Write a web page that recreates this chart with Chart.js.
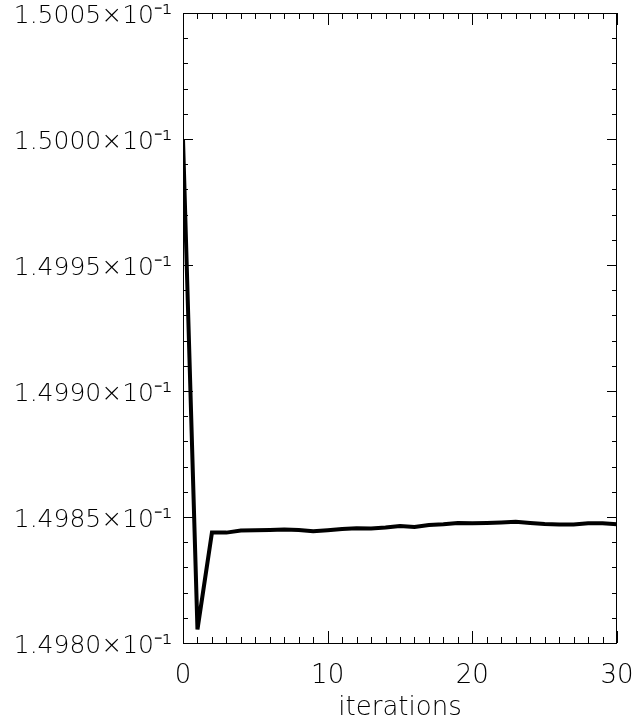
<!DOCTYPE html>
<html>
<head>
<meta charset="utf-8">
<script src="https://cdn.jsdelivr.net/npm/chart.js@4.4.1/dist/chart.umd.min.js"></script>
<style>
  html, body { margin: 0; padding: 0; background: #fff; }
  #wrap { width: 637px; height: 725px; }
</style>
</head>
<body>
<div id="wrap"><canvas id="myChart" width="637" height="725"></canvas></div>
<script>
// iteration number and value
var iterations = [0, 1, 2, 3, 4, 5, 6, 7, 8, 9, 10, 11, 12, 13, 14, 15, 16, 17, 18, 19, 20, 21, 22, 23, 24, 25, 26, 27, 28, 29, 30];
var values = [0.1500000, 0.1498054, 0.1498438, 0.1498438, 0.1498446, 0.1498447, 0.1498448, 0.1498450, 0.1498448, 0.1498443,
              0.1498447, 0.1498452, 0.1498455, 0.1498454, 0.1498458, 0.1498464, 0.1498460, 0.1498468, 0.1498471, 0.1498476,
              0.1498475, 0.1498476, 0.1498478, 0.1498481, 0.1498476, 0.1498472, 0.1498470, 0.1498470, 0.1498475, 0.1498475,
              0.1498471];

var xTicks = [0, 10, 20, 30];
var yTicks = [0.14980, 0.14985, 0.14990, 0.14995, 0.15000, 0.15005];
var xMinorStep = 1;
var yMinorStep = 0.00001;

var FONT = "'DejaVu Sans', sans-serif";

var points = [];
for (var i = 0; i < iterations.length; i++) {
  points.push({ x: iterations[i], y: values[i] });
}

// IDL style box with inward ticks on all four sides
var boxPlugin = {
  id: 'box',
  afterDraw: function(chart) {
    var ctx = chart.ctx;
    var a = chart.chartArea;
    var xs = chart.scales.x, ys = chart.scales.y;
    ctx.save();
    ctx.strokeStyle = '#000';
    ctx.lineWidth = 1;
    ctx.strokeRect(Math.round(a.left) + 0.5, Math.round(a.top) + 0.5,
                   Math.round(a.right - a.left) - 1, Math.round(a.bottom - a.top));
    ctx.beginPath();
    var v, px, len;
    for (v = xs.min; v <= xs.max + 1e-9; v += xMinorStep) {
      px = Math.round(xs.getPixelForValue(v)) + 0.5;
      len = (Math.abs(v % 10) < 1e-9) ? 12 : 6;
      ctx.moveTo(px, a.bottom); ctx.lineTo(px, a.bottom - len);
      ctx.moveTo(px, a.top); ctx.lineTo(px, a.top + len);
    }
    var n = Math.round((ys.max - ys.min) / yMinorStep);
    for (var k = 0; k <= n; k++) {
      v = ys.min + k * yMinorStep;
      px = Math.round(ys.getPixelForValue(v)) + 0.5;
      len = (k % 5 === 0) ? 10 : 5;
      ctx.moveTo(a.left, px); ctx.lineTo(a.left + len, px);
      ctx.moveTo(a.right, px); ctx.lineTo(a.right - len, px);
    }
    ctx.stroke();
    ctx.restore();
  }
};

var ctx = document.getElementById("myChart").getContext("2d");
var myLineChart = new Chart(ctx, {
  type: 'line',
  data: {
    datasets: [{
      data: points,
      borderColor: '#000',
      borderWidth: 4,
      pointRadius: 0,
      tension: 0,
      fill: false
    }]
  },
  options: {
    responsive: false,
    animation: false,
    layout: { padding: { left: 0, right: 20, top: 13, bottom: 0 } },
    plugins: { legend: { display: false }, tooltip: { enabled: false } },
    scales: {
      x: {
        type: 'linear',
        min: 0,
        max: 30,
        border: { display: false },
        grid: { display: false, drawTicks: false },
        afterBuildTicks: function(scale) {
          scale.ticks = xTicks.map(function(t) { return { value: t }; });
        },
        afterFit: function(scale) {
          scale.height = 82;
          scale.paddingLeft = 0;
          scale.paddingRight = 0;
        },
        ticks: {
          padding: 18,
          maxRotation: 0,
          color: '#000',
          font: { family: FONT, size: 26, weight: 200 },
          callback: function(v) { return String(v); }
        },
        title: {
          display: true,
          text: 'iterations',
          color: '#000',
          padding: { top: 0, bottom: 1 },
          font: { family: FONT, size: 26, weight: 200 }
        }
      },
      y: {
        type: 'linear',
        min: 0.14980,
        max: 0.15005,
        border: { display: false },
        grid: { display: false, drawTicks: false },
        afterBuildTicks: function(scale) {
          scale.ticks = yTicks.map(function(t) { return { value: t }; });
        },
        afterFit: function(scale) {
          scale.width = 183;
          scale.paddingTop = 0;
          scale.paddingBottom = 0;
        },
        ticks: {
          padding: 11,
          labelOffset: 3,
          color: '#000',
          font: { family: FONT, size: 25, weight: 200 },
          callback: function(v) { return (v * 10).toFixed(4) + '\u00d710\u207b\u00b9'; }
        }
      }
    }
  },
  plugins: [boxPlugin]
});
</script>
</body>
</html>
